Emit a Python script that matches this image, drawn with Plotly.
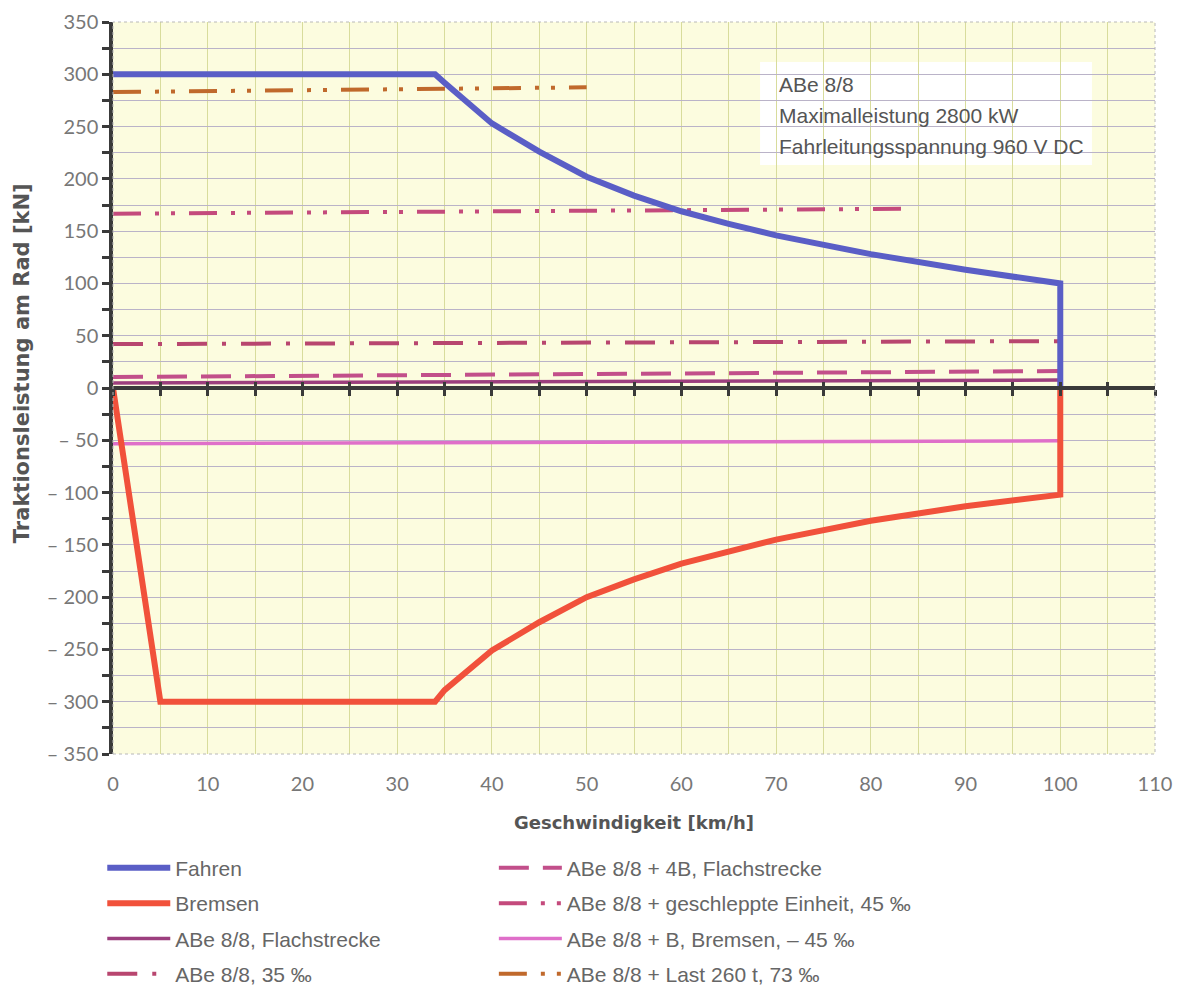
import plotly.graph_objects as go

# ---------------- data ----------------
fahren_v = [0, 34, 35, 40, 45, 50, 55, 60, 65, 70, 80, 90, 100, 100]
fahren_f = [300, 300, 292, 253, 226, 202, 184, 169, 157, 146, 128, 113, 100, 0]

bremsen_v = [0, 5, 34, 35, 40, 45, 50, 55, 60, 65, 70, 80, 90, 100, 100]
bremsen_f = [0, -300, -300, -289, -251, -224, -200, -183, -168, -156, -145, -127, -113, -102, 0]

flach_v = [0, 50, 100]
flach_f = [4.8, 6.2, 7.6]

s35_v = [0, 50, 100]
s35_f = [42, 43.4, 44.8]

b4_v = [0, 50, 100]
b4_f = [10.5, 13.3, 16.2]

gesch_v = [0, 40, 84]
gesch_f = [166.7, 169, 171.4]

bbrems_v = [0, 50, 100]
bbrems_f = [-53.3, -52, -50.5]

last_v = [0, 25, 50]
last_f = [283, 285, 287.5]

x_range = [0, 110]
y_range = [-350, 350]
x_ticks = list(range(0, 111, 5))
x_ticktext = [str(v) if v % 10 == 0 else "" for v in x_ticks]
y_ticks = list(range(-350, 351, 25))
y_ticktext = [("" if v % 50 else (str(v) if v >= 0 else "\u2013 " + str(-v))) for v in y_ticks]

info_lines = ["ABe 8/8", "Maximalleistung 2800 kW", "Fahrleitungsspannung 960 V DC"]
y_title = "Traktionsleistung am Rad [kN]"
x_title = "Geschwindigkeit [km/h]"

# ---------------- figure ----------------
fig = go.Figure()

series = [
    # name, x, y, color, width, dash, legend, rank
    ("ABe 8/8, Flachstrecke", flach_v, flach_f, "#9c3f7e", 3.5, "solid", "legend", 3),
    ("ABe 8/8, 35 \u2030", s35_v, s35_f, "#b8466f", 4, "30px,15px,4px,15px", "legend", 4),
    ("ABe 8/8 + 4B, Flachstrecke", b4_v, b4_f, "#c24f8a", 4, "30px,14px", "legend2", 1),
    ("ABe 8/8 + geschleppte Einheit, 45 \u2030", gesch_v, gesch_f, "#c44a7c", 4, "28px,14px,4px,12px,4px,14px", "legend2", 2),
    ("ABe 8/8 + B, Bremsen, \u2013 45 \u2030", bbrems_v, bbrems_f, "#df6fc9", 3.5, "solid", "legend2", 3),
    ("ABe 8/8 + Last 260 t, 73 \u2030", last_v, last_f, "#c0692c", 4, "28px,14px,4px,12px,4px,14px", "legend2", 4),
    ("Fahren", fahren_v, fahren_f, "#5a5ec6", 6, "solid", "legend", 1),
    ("Bremsen", bremsen_v, bremsen_f, "#f1513b", 6, "solid", "legend", 2),
]

for i, (name, xs, ys, col, w, dash, leg, rank) in enumerate(series):
    fig.add_trace(go.Scatter(
        x=xs, y=ys, mode="lines", name=name,
        line=dict(color=col, width=w, dash=dash),
        legend=leg, legendrank=rank, legendgroup="g%d" % i,
        hoverinfo="skip",
    ))

# helper invisible traces to activate the zero-line tick axes
for ax in ["x2", "x3"]:
    fig.add_trace(go.Scatter(x=x_range, y=[0, 0], xaxis=ax, yaxis="y", mode="lines",
                             line=dict(width=0), opacity=0, showlegend=False, hoverinfo="skip"))

font_ticks = dict(family="Lato, Open Sans, sans-serif", size=20, color="#777777")
font_title = "DejaVu Sans, Liberation Sans, sans-serif"
font_text = "Liberation Sans, Arial, sans-serif"

# y position of the zero line in paper coordinates
zero_pos = (0 - y_range[0]) / (y_range[1] - y_range[0])

fig.update_layout(
    width=1183, height=988,
    margin=dict(l=105, r=36, t=14, b=242, autoexpand=False),
    paper_bgcolor="white",
    plot_bgcolor="#fcfcdf",
    xaxis=dict(
        range=x_range, tickmode="array", tickvals=x_ticks, ticktext=x_ticktext,
        showgrid=True, gridcolor="#d8dc9c", gridwidth=1,
        zeroline=False, showline=False,
        ticks="outside", ticklen=12, tickcolor="rgba(0,0,0,0)",
        tickfont=font_ticks, ticklabeloverflow="allow",
        title=dict(text="<b>%s</b>" % x_title,
                   font=dict(family=font_title, size=18, color="#555555"),
                   standoff=22),
    ),
    xaxis2=dict(
        range=x_range, overlaying="x", anchor="free", position=zero_pos,
        tickmode="array", tickvals=x_ticks, showticklabels=False,
        showgrid=False, zeroline=False,
        showline=True, linecolor="#3a3a3a", linewidth=3.5,
        ticks="outside", ticklen=6, tickwidth=3, tickcolor="#3a3a3a",
    ),
    xaxis3=dict(
        range=x_range, overlaying="x", anchor="free", position=zero_pos,
        tickmode="array", tickvals=x_ticks, showticklabels=False,
        showgrid=False, zeroline=False, showline=False,
        ticks="inside", ticklen=6, tickwidth=3, tickcolor="#3a3a3a",
    ),
    yaxis=dict(
        range=y_range, tickmode="array", tickvals=y_ticks, ticktext=y_ticktext,
        showgrid=True, gridcolor="#bab3c8", gridwidth=1,
        zeroline=False,
        showline=True, linecolor="#3a3a3a", linewidth=3.5,
        ticks="outside", ticklen=7, tickwidth=3, tickcolor="#3a3a3a",
        tickfont=font_ticks, ticklabeloverflow="allow",
    ),
    legend=dict(
        x=-0.0103, y=-0.128, xanchor="left", yanchor="top",
        orientation="v", tracegroupgap=5, itemwidth=63,
        font=dict(family=font_text, size=21, color="#666666"),
        bgcolor="rgba(0,0,0,0)",
    ),
    legend2=dict(
        x=0.3655, y=-0.128, xanchor="left", yanchor="top",
        orientation="v", tracegroupgap=5, itemwidth=63,
        font=dict(family=font_text, size=21, color="#666666"),
        bgcolor="rgba(0,0,0,0)",
    ),
    showlegend=True,
)

# y-axis title (placed slightly above centre, as in the original)
fig.add_annotation(text="<b>%s</b>" % y_title, xref="paper", yref="paper",
                   x=-0.0873, y=0.534, xanchor="center", yanchor="middle",
                   textangle=-90, showarrow=False,
                   font=dict(family=font_title, size=21, color="#555555"))

# plot frame (faint dotted border) and info box
fig.add_shape(type="rect", xref="paper", yref="paper", x0=0, x1=1, y0=0, y1=1,
              line=dict(color="#b8b8b8", width=1, dash="dot"), layer="above")
fig.add_shape(type="rect", xref="paper", yref="paper", x0=0.621, x1=0.9395, y0=0.8046, y1=0.9454,
              fillcolor="white", line=dict(width=0), layer="between")

for txt, yp in zip(info_lines, [0.9153, 0.8716, 0.8306]):
    fig.add_annotation(text=txt, xref="paper", yref="paper", x=0.637, y=yp,
                       xanchor="left", yanchor="middle", showarrow=False, align="left",
                       font=dict(family=font_text, size=21, color="#555555"))

fig.write_html("out.html")
